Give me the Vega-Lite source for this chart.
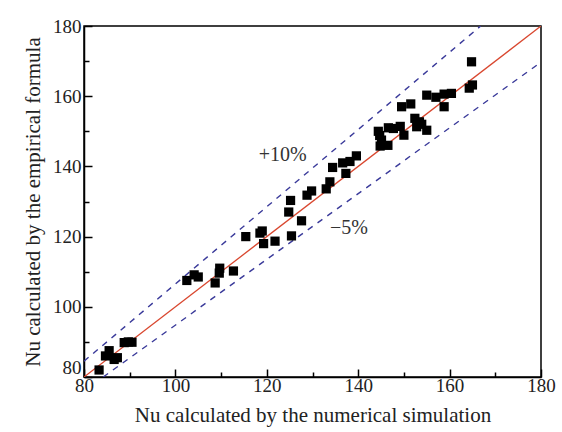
{
  "$schema": "https://vega.github.io/schema/vega-lite/v6.json",
  "width": 457,
  "height": 351,
  "autosize": "none",
  "padding": {"left": 84, "top": 26, "right": 21, "bottom": 55},
  "background": "white",
  "config": {
    "view": {"stroke": "black", "strokeWidth": 1.5},
    "font": "Times New Roman",
    "axis": {
      "grid": false,
      "domainColor": "black",
      "domainWidth": 1.5,
      "tickColor": "black",
      "tickWidth": 1.5,
      "labelFont": "Times New Roman",
      "labelFontSize": 19,
      "labelColor": "#222",
      "titleFont": "Times New Roman",
      "titleFontSize": 21,
      "titleFontWeight": "normal",
      "titleColor": "#222"
    }
  },
  "datasets": {
    "pts": [
      {"sim": 83.3, "emp": 82}, {"sim": 84.7, "emp": 86}, {"sim": 85.5, "emp": 87.5}, {"sim": 86.6, "emp": 85},
      {"sim": 87.3, "emp": 85.5}, {"sim": 88.8, "emp": 89.8}, {"sim": 89.7, "emp": 90}, {"sim": 90.5, "emp": 89.9},
      {"sim": 102.5, "emp": 107.5}, {"sim": 104.1, "emp": 109.1}, {"sim": 105, "emp": 108.5}, {"sim": 108.7, "emp": 106.8},
      {"sim": 109.6, "emp": 109.6}, {"sim": 109.7, "emp": 111}, {"sim": 112.7, "emp": 110.2},
      {"sim": 115.4, "emp": 120}, {"sim": 118.5, "emp": 121}, {"sim": 119, "emp": 121.6}, {"sim": 119.3, "emp": 118},
      {"sim": 121.8, "emp": 118.7}, {"sim": 124.8, "emp": 127}, {"sim": 125.2, "emp": 130.3}, {"sim": 125.4, "emp": 120.2},
      {"sim": 127.6, "emp": 124.5}, {"sim": 128.8, "emp": 131.8}, {"sim": 129.8, "emp": 133}, {"sim": 133, "emp": 133.6},
      {"sim": 133.8, "emp": 135.6}, {"sim": 134.4, "emp": 139.7}, {"sim": 136.6, "emp": 141}, {"sim": 137.3, "emp": 138},
      {"sim": 138.2, "emp": 141.4}, {"sim": 139.6, "emp": 143},
      {"sim": 144.4, "emp": 150}, {"sim": 144.7, "emp": 148.8}, {"sim": 145.1, "emp": 147.5}, {"sim": 144.8, "emp": 145.8},
      {"sim": 146.5, "emp": 146}, {"sim": 146.6, "emp": 151}, {"sim": 147.7, "emp": 150.8}, {"sim": 149.2, "emp": 151.4},
      {"sim": 150, "emp": 148.9}, {"sim": 149.5, "emp": 157}, {"sim": 151.5, "emp": 157.8}, {"sim": 152.4, "emp": 153.7},
      {"sim": 153.4, "emp": 152.7}, {"sim": 153.9, "emp": 152}, {"sim": 152.8, "emp": 151.3}, {"sim": 155, "emp": 150.3},
      {"sim": 155, "emp": 160.3}, {"sim": 157, "emp": 159.7}, {"sim": 158.8, "emp": 160.6}, {"sim": 160.4, "emp": 160.8},
      {"sim": 158.8, "emp": 157}, {"sim": 164.8, "emp": 169.8}, {"sim": 164.3, "emp": 162.3}, {"sim": 165, "emp": 163.2}
    ],
    "lines": [
      {"series": "ref", "sim": 80, "emp": 80}, {"series": "ref", "sim": 180, "emp": 180},
      {"series": "upper", "sim": 80, "emp": 84.5}, {"series": "upper", "sim": 166.8, "emp": 180},
      {"series": "lower", "sim": 84.2, "emp": 80}, {"series": "lower", "sim": 180, "emp": 169.7}
    ],
    "notes": [
      {"label": "+10%", "sim": 123.5, "emp": 143.2},
      {"label": "\u22125%", "sim": 138, "emp": 122.4}
    ]
  },
  "encoding": {
    "x": {
      "field": "sim", "type": "quantitative",
      "scale": {"domain": [80, 180], "nice": false},
      "axis": {
        "title": "Nu calculated by the numerical simulation",
        "values": [80, 90, 100, 110, 120, 130, 140, 150, 160, 170, 180],
        "labelExpr": "datum.value % 20 === 0 ? datum.label : ''",
        "tickSize": {"condition": {"test": "datum.value % 20 === 0", "value": -8}, "value": -5},
        "labelPadding": 7,
        "titlePadding": 6,
        "labelFlush": false,
        "labelOverlap": false
      }
    },
    "y": {
      "field": "emp", "type": "quantitative",
      "scale": {"domain": [80, 180], "nice": false},
      "axis": {
        "title": "Nu calculated by the empirical formula",
        "values": [80, 90, 100, 110, 120, 130, 140, 150, 160, 170, 180],
        "labelExpr": "datum.value % 20 === 0 ? datum.label : ''",
        "labelBaseline": {"condition": {"test": "datum.value === 80", "value": "bottom"}, "value": "middle"},
        "tickSize": {"condition": {"test": "datum.value % 20 === 0", "value": -8}, "value": -5},
        "labelPadding": 11,
        "titlePadding": 9,
        "labelFlush": false,
        "labelOverlap": false
      }
    }
  },
  "layer": [
    {
      "data": {"name": "lines"},
      "transform": [{"filter": "datum.series === 'ref'"}],
      "mark": {"type": "line", "color": "#d9472f", "strokeWidth": 1.3, "clip": true}
    },
    {
      "data": {"name": "lines"},
      "transform": [{"filter": "datum.series !== 'ref'"}],
      "mark": {"type": "line", "color": "#3a3a9a", "strokeWidth": 1.4, "strokeDash": [6, 6], "clip": true},
      "encoding": {"detail": {"field": "series"}}
    },
    {
      "data": {"name": "pts"},
      "mark": {"type": "square", "color": "black", "opacity": 1, "size": 85, "filled": true}
    },
    {
      "data": {"name": "notes"},
      "mark": {"type": "text", "font": "Times New Roman", "fontSize": 20, "color": "#333"},
      "encoding": {"text": {"field": "label"}}
    }
  ]
}
